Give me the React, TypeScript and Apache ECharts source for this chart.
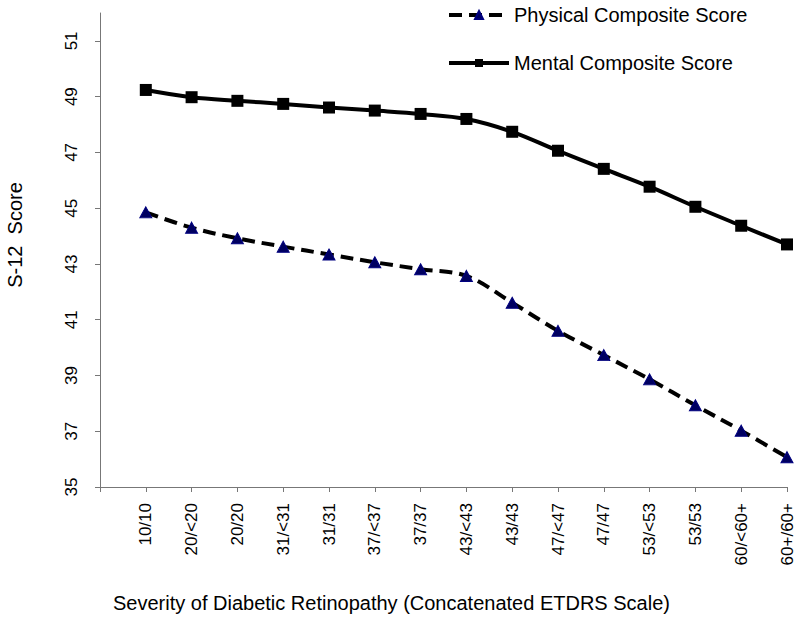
import React, { useEffect, useRef } from "react";
import * as echarts from "echarts";

const categories = [
  "10/10", "20/<20", "20/20", "31/<31", "31/31", "37/<37", "37/37", "43/<43",
  "43/43", "47/<47", "47/47", "53/<53", "53/53", "60/<60+", "60+/60+",
];
const physicalScores = [
  44.85, 44.3, 43.92, 43.62, 43.34, 43.06, 42.81, 42.57,
  41.61, 40.6, 39.73, 38.86, 37.93, 37.02, 36.07,
];
const mentalScores = [
  49.24, 48.98, 48.85, 48.74, 48.61, 48.5, 48.38, 48.2,
  47.74, 47.06, 46.41, 45.77, 45.05, 44.37, 43.7,
];
const yTicks = [35, 37, 39, 41, 43, 45, 47, 49, 51];
const yMin = 35;
const yMax = 52;
const xTitle = "Severity of Diabetic Retinopathy (Concatenated ETDRS Scale)";
const yTitle = "S-12  Score";

const FONT = "'Liberation Sans', Arial, Helvetica, sans-serif";

export default function App() {
  const ref = useRef<HTMLDivElement>(null);
  useEffect(() => {
    if (!ref.current) return;
    const chart = echarts.init(ref.current, null, { renderer: "svg" });
    const xData = ["", ...categories];
    const phys = ["-", ...physicalScores];
    const ment = ["-", ...mentalScores];
    chart.setOption({
      animation: false,
      backgroundColor: "#ffffff",
      textStyle: { fontFamily: FONT, color: "#000" },
      grid: { left: 100, right: 13, top: 13, bottom: 135, containLabel: false },
      legend: {
        orient: "vertical",
        left: 447,
        top: 5,
        padding: 0,
        itemWidth: 60,
        itemHeight: 10,
        itemGap: 28,
        lineStyle: { width: 4 },
        textStyle: { fontSize: 20, fontFamily: FONT, color: "#000" },
        data: ["Physical Composite Score", "Mental Composite Score"],
      },
      xAxis: {
        type: "category",
        data: xData,
        boundaryGap: false,
        axisLine: { lineStyle: { color: "#777", width: 1 } },
        axisTick: { show: true, interval: 0, length: 5, inside: false, lineStyle: { color: "#777" } },
        axisLabel: {
          interval: 0,
          rotate: 90,
          margin: 16,
          fontSize: 17,
          fontFamily: FONT,
          color: "#000",
        },
        splitLine: { show: false },
      },
      yAxis: {
        type: "value",
        min: yMin,
        max: yMax,
        axisLine: { show: true, lineStyle: { color: "#777", width: 1 } },
        axisTick: { show: true, length: 5, customValues: yTicks, lineStyle: { color: "#777" } },
        axisLabel: {
          rotate: 90,
          margin: 20,
          fontSize: 17,
          fontFamily: FONT,
          color: "#000",
          customValues: yTicks,
        },
        splitLine: { show: false },
      },
      graphic: [
        {
          type: "text",
          x: 15,
          y: 235,
          rotation: Math.PI / 2,
          style: {
            text: yTitle,
            fontSize: 20,
            fontFamily: FONT,
            fill: "#000",
            align: "center",
            verticalAlign: "middle",
          },
        },
        {
          type: "text",
          x: 113,
          y: 603,
          style: {
            text: xTitle,
            fontSize: 20,
            fontFamily: FONT,
            fill: "#000",
            align: "left",
            verticalAlign: "middle",
          },
        },
      ],
      series: [
        {
          name: "Physical Composite Score",
          type: "line",
          data: phys,
          smooth: 0.35,
          symbol: "triangle",
          symbolSize: [12, 11],
          itemStyle: { color: "#000060", borderColor: "#000080", borderWidth: 1 },
          lineStyle: { color: "#000", width: 4, type: [13, 7], cap: "butt" },
          z: 3,
        },
        {
          name: "Mental Composite Score",
          type: "line",
          data: ment,
          smooth: 0.35,
          symbol: "rect",
          symbolSize: 12,
          itemStyle: { color: "#000", borderColor: "#000", borderWidth: 0 },
          lineStyle: { color: "#000", width: 4, type: "solid" },
          z: 2,
        },
      ],
    });
    return () => chart.dispose();
  }, []);
  return (
    <div
      ref={ref}
      style={{ position: "fixed", left: 0, top: 0, width: 800, height: 622, background: "#fff" }}
    />
  );
}
